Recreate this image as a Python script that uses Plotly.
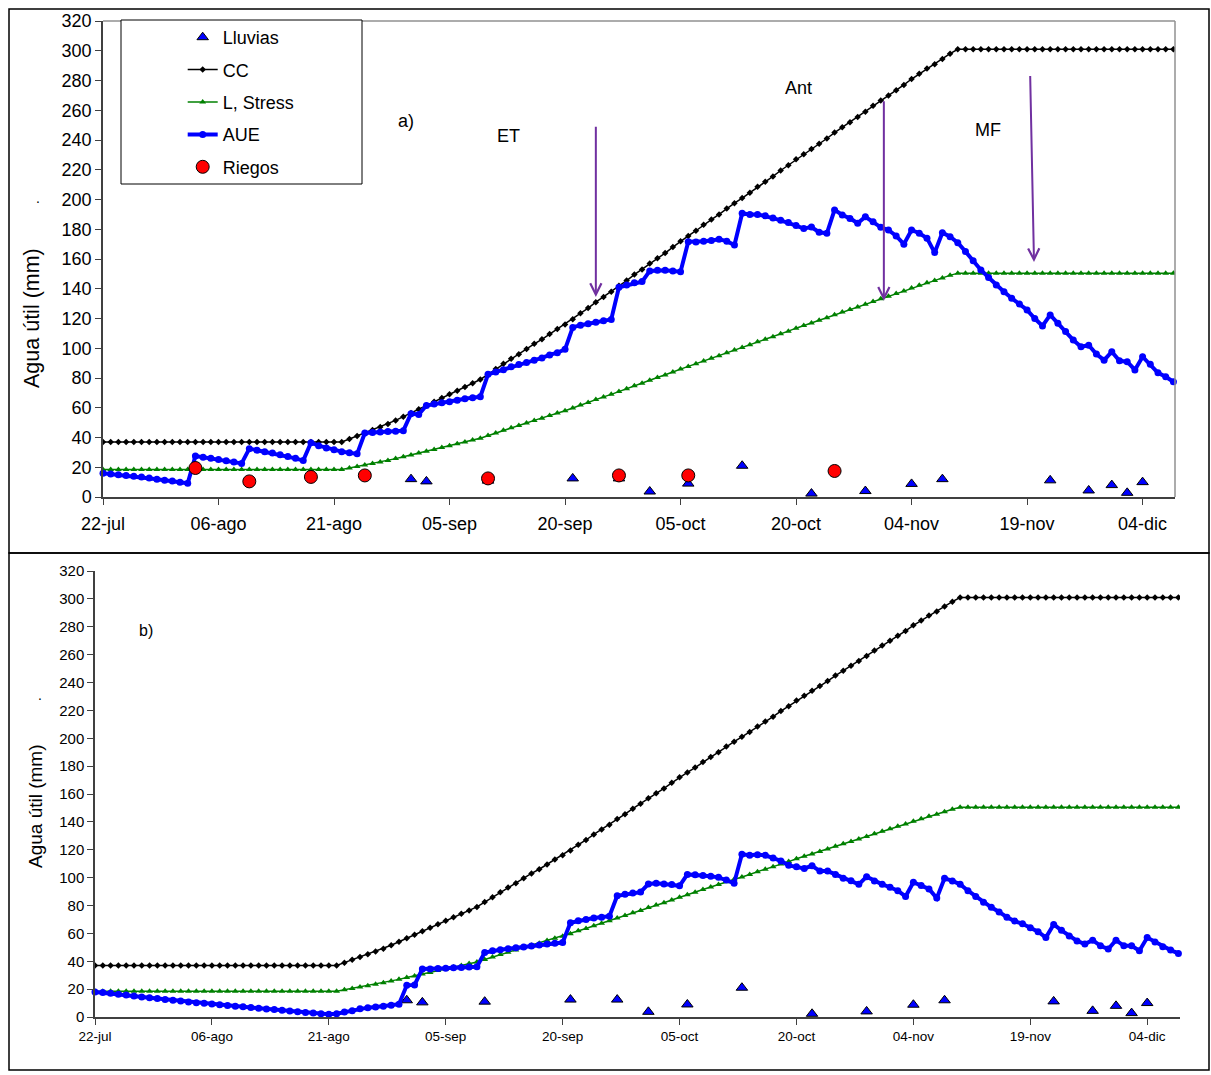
import pandas as pd
import plotly.graph_objects as go

W, H = 1211, 1075
FONT = "Liberation Sans, Arial, sans-serif"

# ---------------- data ----------------
dates = pd.date_range("2008-07-22", periods=140, freq="D")

cc = [37, 37, 37, 37, 37, 37, 37, 37, 37, 37, 37, 37, 37, 37, 37, 37,
      37, 37, 37, 37, 37, 37, 37, 37, 37, 37, 37, 37, 37, 37, 37, 37,
      39, 41, 43, 45, 47, 49, 51.5, 54, 56.5, 59, 61.5, 64, 66.5, 69, 71.5, 74, 76.5, 79,
      82.5, 86, 89.5, 93, 96, 99.5, 103, 106, 109.5, 113, 116, 119.5, 123.5, 127, 131,
      134.5, 138, 142, 145.5, 149.5, 153, 157, 160.5, 164, 168, 172, 175.5, 179, 183,
      186.5, 190, 194, 197.5, 201, 204.5, 208.5, 212, 215.5, 219.5, 223, 227, 230.5,
      234, 237.5, 241, 245, 248.5, 252, 255.5, 259, 263, 266.5, 270, 273.5, 277, 281,
      284.5, 288, 291, 294.5, 298, 301,
      301, 301, 301, 301, 301, 301, 301, 301, 301, 301, 301, 301, 301, 301,
      301, 301, 301, 301, 301, 301, 301, 301, 301, 301, 301, 301, 301, 301]

l_stress = [18.5, 18.5, 18.5, 18.5, 18.5, 18.5, 18.5, 18.5, 18.5, 18.5, 18.5, 18.5,
            18.5, 18.5, 18.5, 18.5, 18.5, 18.5, 18.5, 18.5, 18.5, 18.5, 18.5, 18.5,
            18.5, 18.5, 18.5, 18.5, 18.5, 18.5, 18.5, 18.5,
            19.5, 20.5, 21.5, 22.5, 23.5, 24.5, 25.8, 27, 28.3, 29.5, 30.8, 32, 33.3,
            34.5, 35.8, 37, 38.3, 39.5,
            41.3, 43, 44.8, 46.5, 48, 49.8, 51.5, 53, 54.8, 56.5, 58, 59.8, 61.8, 63.5,
            65.5, 67.3, 69, 71, 72.8, 74.8, 76.5, 78.5, 80.3, 82, 84, 86, 87.8, 89.5,
            91.5, 93.3, 95, 97, 98.8, 100.5, 102.3, 104.3, 106, 107.8, 109.8, 111.5,
            113.5, 115.3, 117, 118.8, 120.5, 122.5, 124.3, 126, 127.8, 129.5, 131.5,
            133.3, 135, 136.8, 138.5, 140.5, 142.3, 144, 145.5, 147.3, 149, 150.5,
            150.5, 150.5, 150.5, 150.5, 150.5, 150.5, 150.5, 150.5, 150.5, 150.5,
            150.5, 150.5, 150.5, 150.5, 150.5, 150.5, 150.5, 150.5, 150.5, 150.5,
            150.5, 150.5, 150.5, 150.5, 150.5, 150.5, 150.5, 150.5]

aue_a = [16, 15.5, 15, 14.5, 14, 13.5, 12.8, 12, 11.3, 10.7, 10, 9.2,
         27.5, 26.8, 26, 25.2, 24.3, 23.5, 22.6,
         32.5, 31.5, 30.5, 29.5, 28.4, 27.3, 26, 24.5,
         36.5, 34.5, 33, 31.8, 30.5, 29.7, 29,
         43, 43.3, 43.7, 44, 44.2, 44.6,
         56, 55.5,
         61.5, 62.5, 63.3, 64, 65, 66, 66.8, 67.4,
         82.5, 84, 85.5, 87.5, 89, 90.5, 92, 93.5, 95.5, 97, 99.3,
         114, 115.5, 116.5, 117.5, 118.5, 119.4,
         141, 142.5, 144, 144.8,
         152, 152.5, 152.5, 152, 151.5,
         171.6, 171.5, 172, 172.5, 173.2, 172, 169.4,
         190.7, 190, 190, 189, 187.5, 186, 184.5, 182.5, 180.5, 181.5, 178, 177.3,
         193, 189.6, 187.3, 184, 188.4, 185, 181.3, 179.5, 175.5, 170, 179.5, 177.3,
         174, 164.3, 177.7, 175, 171, 165, 158.9, 152.6, 147.6, 142.5, 138, 133.6,
         129.7, 125.7, 120, 115, 122.4, 116.8, 111.2, 105.5, 101, 102, 96.1, 92,
         97.7, 91.6, 91, 85.4, 94.3, 89.3, 83.5, 80.8, 77.5]

aue_b = [18, 17.5, 17, 16.3, 15.7, 15, 14.4, 13.8, 13.2, 12.6, 12, 11.4, 10.8, 10.3,
         9.8, 9.3, 8.8, 8.3, 7.8, 7.3, 6.8, 6.3, 5.8, 5.3, 4.8, 4.3, 3.8, 3.3, 2.8,
         2.4, 2,
         2.3, 3.5, 4.5, 6, 6.7, 7.2, 7.7, 8.4, 9.2,
         22.7, 23,
         34.5, 34.5, 34.8, 35, 35.3, 35.6, 35.8, 36,
         46.3, 47.5, 48.3, 49, 49.7, 50.3, 51, 51.7, 52.3, 53, 53.4,
         67.6, 69, 70, 71, 71.5, 72.3,
         87, 88, 89, 89.6,
         95.5, 96, 95.5, 95, 94.1,
         102.3, 102, 101.5, 101, 100.2, 98.3, 96,
         116.8, 116, 116.5, 116, 114, 112, 108.8, 107.8, 106.6, 108.5, 104.7, 104.7,
         102.3, 99.5, 97.8, 95.2, 100.7, 97.6, 95.2, 93.1, 90.6, 86.5, 96.7, 94.3,
         91.9, 85.3, 99.5, 97.6, 95.2, 90.6, 86.5, 82.3, 78.7, 75.4, 71.6, 68.8,
         66.9, 64, 61.2, 57, 66.4, 62.2, 58.2, 54.6, 52.3, 55.1, 51.1, 48.7, 55.1,
         51.1, 51.1, 47.5, 57, 53.9, 50.4, 48, 45.6]

lluvia_fechas = ["2008-08-31", "2008-09-02", "2008-09-10", "2008-09-21", "2008-09-27",
                 "2008-10-01", "2008-10-06", "2008-10-13", "2008-10-22", "2008-10-29",
                 "2008-11-04", "2008-11-08", "2008-11-22", "2008-11-27", "2008-11-30",
                 "2008-12-02", "2008-12-04"]
lluvia_mm = [12, 10.5, 11, 12.5, 12.5, 3.7, 9, 21, 2.3, 4, 8.8, 12, 11.2, 4.4, 8, 2.8, 10]

riego_fechas = ["2008-08-03", "2008-08-10", "2008-08-18", "2008-08-25",
                "2008-09-10", "2008-09-27", "2008-10-06", "2008-10-25"]
riego_mm = [19.5, 10.5, 13.5, 14.5, 12.5, 14.5, 14.5, 17.5]

tick_fechas = ["2008-07-22", "2008-08-06", "2008-08-21", "2008-09-05", "2008-09-20",
               "2008-10-05", "2008-10-20", "2008-11-04", "2008-11-19", "2008-12-04"]
tick_labels = ["22-jul", "06-ago", "21-ago", "05-sep", "20-sep",
               "05-oct", "20-oct", "04-nov", "19-nov", "04-dic"]

for s in (cc, l_stress, aue_a, aue_b):
    assert len(s) == 140, len(s)

# ---------------- helpers ----------------
def px_x(p):
    return p / W


def px_y(p):
    return 1 - p / H


def day(n):
    return pd.Timestamp("2008-07-22") + pd.Timedelta(days=n)


fig = go.Figure()

panels = [("x", "y", aue_a, True), ("x2", "y2", aue_b, False)]
for xa, ya, aue, first in panels:
    fig.add_trace(go.Scatter(
        x=lluvia_fechas, y=lluvia_mm, name="Lluvias", mode="markers",
        marker=dict(symbol="triangle-up", size=10, color="#0000FF",
                    line=dict(color="black", width=1)),
        cliponaxis=False, xaxis=xa, yaxis=ya, showlegend=first, legendgroup="g1"))
    fig.add_trace(go.Scatter(
        x=dates, y=cc, name="CC", mode="lines+markers",
        line=dict(color="black", width=1.5),
        marker=dict(symbol="diamond", size=5, color="black"),
        xaxis=xa, yaxis=ya, showlegend=first, legendgroup="g2"))
    fig.add_trace(go.Scatter(
        x=dates, y=l_stress, name="L, Stress", mode="lines+markers",
        line=dict(color="#008000", width=1.5),
        marker=dict(symbol="triangle-up", size=6, color="#008000"),
        xaxis=xa, yaxis=ya, showlegend=first, legendgroup="g3"))
    fig.add_trace(go.Scatter(
        x=dates, y=aue, name="AUE", mode="lines+markers",
        line=dict(color="#0000FF", width=4),
        marker=dict(symbol="circle", size=7, color="#0000FF"),
        cliponaxis=False, xaxis=xa, yaxis=ya, showlegend=first, legendgroup="g4"))
    if first:
        fig.add_trace(go.Scatter(
            x=riego_fechas, y=riego_mm, name="Riegos", mode="markers",
            marker=dict(symbol="circle", size=13, color="#FF0000",
                        line=dict(color="black", width=1)),
            cliponaxis=False, xaxis=xa, yaxis=ya, showlegend=True, legendgroup="g5"))

axcol = "#404040"
xrange = ["2008-07-22", "2008-12-08 05:00"]


def xaxis(domain, anchor, fs, standoff):
    return dict(domain=domain, anchor=anchor, type="date", range=xrange,
                tickmode="array", tickvals=tick_fechas, ticktext=tick_labels,
                ticks="outside", ticklen=6, tickcolor=axcol, tickwidth=1,
                showline=True, linecolor=axcol, linewidth=1.5,
                showgrid=False, zeroline=False, automargin=False,
                ticklabelstandoff=standoff,
                tickfont=dict(family=FONT, size=fs, color="black"))


def yaxis(domain, anchor, fs):
    return dict(domain=domain, anchor=anchor, range=[0, 320], tick0=0, dtick=20,
                ticks="outside", ticklen=6, tickcolor=axcol, tickwidth=1,
                showline=True, linecolor=axcol, linewidth=1.5,
                showgrid=False, zeroline=False, automargin=False,
                tickfont=dict(family=FONT, size=fs, color="black"))


fig.update_layout(
    width=W, height=H, margin=dict(l=0, r=0, t=0, b=0, pad=0, autoexpand=False),
    paper_bgcolor="white", plot_bgcolor="white",
    font=dict(family=FONT, color="black"),
    xaxis=xaxis([px_x(103), px_x(1175)], "y", 18, 4),
    yaxis=yaxis([px_y(497), px_y(21)], "x", 18),
    xaxis2=xaxis([px_x(95), px_x(1180)], "y2", 13.5, 0),
    yaxis2=yaxis([px_y(1017), px_y(571)], "x2", 15),
    legend=dict(x=px_x(182.7), y=px_y(19), xanchor="left", yanchor="top",
                bgcolor="rgba(0,0,0,0)", borderwidth=0,
                traceorder="grouped", tracegroupgap=6,
                font=dict(family=FONT, size=18, color="black")),
)

shapes = [
    # panel frames
    dict(type="rect", xref="paper", yref="paper", x0=px_x(9), x1=px_x(1209),
         y0=px_y(553), y1=px_y(9), line=dict(color="black", width=1.5)),
    dict(type="rect", xref="paper", yref="paper", x0=px_x(9), x1=px_x(1209),
         y0=px_y(1070), y1=px_y(553), line=dict(color="black", width=1.5)),
    # plot area border (top & right) of panel a
    dict(type="line", xref="paper", yref="paper", x0=px_x(103), x1=px_x(1175),
         y0=px_y(21), y1=px_y(21), line=dict(color="#909090", width=1.5)),
    dict(type="line", xref="paper", yref="paper", x0=px_x(1175), x1=px_x(1175),
         y0=px_y(21), y1=px_y(497), line=dict(color="#909090", width=1.5)),
    # legend box
    dict(type="rect", xref="paper", yref="paper", x0=px_x(121), x1=px_x(362),
         y0=px_y(184), y1=px_y(20), line=dict(color="black", width=1),
         fillcolor="white", layer="above"),
]
fig.update_layout(shapes=shapes)

ann = []
txt = dict(family=FONT, size=18, color="black")
for label, d, v in [("a)", 39.4, 253), ("ET", 52.6, 243), ("Ant", 90.3, 275), ("MF", 114.9, 247)]:
    ann.append(dict(x=day(d), y=v, xref="x", yref="y", text=label, showarrow=False,
                    xanchor="center", yanchor="middle", font=txt))
ann.append(dict(x=day(6.5), y=277, xref="x2", yref="y2", text="b)", showarrow=False,
                xanchor="center", yanchor="middle",
                font=dict(family=FONT, size=16, color="black")))

purple = "#7030A0"
for d_tip, v_tip, d_tail, v_tail in [(64.0, 134.5, 64.0, 250), (101.4, 132, 101.4, 267),
                                     (120.9, 158, 120.4, 284)]:
    ann.append(dict(x=day(d_tip), y=v_tip, xref="x", yref="y", ax=day(d_tail), ay=v_tail,
                    axref="x", ayref="y", text="", showarrow=True, arrowhead=5,
                    arrowsize=1.1, arrowwidth=2, arrowcolor=purple, standoff=0))

# y-axis titles and stray dots
ann.append(dict(x=px_x(32), y=px_y(318), xref="paper", yref="paper", text="Agua útil (mm)",
                textangle=-90, showarrow=False, xanchor="center", yanchor="middle",
                font=dict(family=FONT, size=21.5, color="black")))
ann.append(dict(x=px_x(35), y=px_y(806), xref="paper", yref="paper", text="Agua útil (mm)",
                textangle=-90, showarrow=False, xanchor="center", yanchor="middle",
                font=dict(family=FONT, size=19, color="black")))
ann.append(dict(x=px_x(38), y=px_y(198), xref="paper", yref="paper", text=".",
                showarrow=False, xanchor="center", yanchor="middle",
                font=dict(family=FONT, size=14, color="black")))
ann.append(dict(x=px_x(40), y=px_y(695), xref="paper", yref="paper", text=".",
                showarrow=False, xanchor="center", yanchor="middle",
                font=dict(family=FONT, size=14, color="black")))
fig.update_layout(annotations=ann)

fig.write_html("out.html")
